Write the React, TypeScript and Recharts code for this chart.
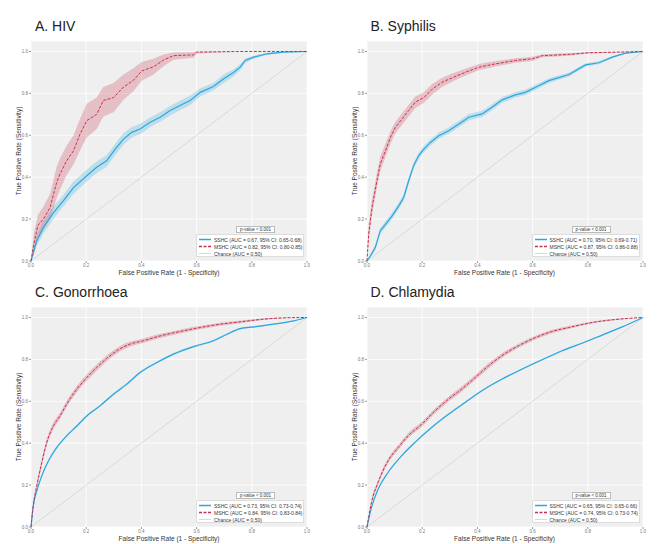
import { ComposedChart, Line, Area, XAxis, YAxis, CartesianGrid } from 'recharts';

// rows are [fpr, tpr, ci low, ci high]
const hivSSHC = [
  [0, 0, 0, 0], [0.02, 0.096, 0.07, 0.12], [0.045, 0.16, 0.13, 0.19], [0.081, 0.23, 0.2, 0.26],
  [0.117, 0.287, 0.26, 0.315], [0.154, 0.35, 0.32, 0.38], [0.202, 0.407, 0.38, 0.435],
  [0.238, 0.447, 0.42, 0.475], [0.274, 0.478, 0.45, 0.505], [0.305, 0.534, 0.505, 0.56],
  [0.335, 0.582, 0.555, 0.61], [0.365, 0.614, 0.59, 0.64], [0.395, 0.63, 0.605, 0.655],
  [0.432, 0.662, 0.64, 0.685], [0.468, 0.686, 0.665, 0.71], [0.504, 0.718, 0.695, 0.74],
  [0.54, 0.742, 0.72, 0.765], [0.577, 0.766, 0.745, 0.79], [0.613, 0.805, 0.785, 0.825],
  [0.661, 0.833, 0.815, 0.85], [0.698, 0.87, 0.85, 0.89], [0.734, 0.9, 0.88, 0.915],
  [0.758, 0.925, 0.91, 0.94], [0.776, 0.957, 0.945, 0.967], [0.807, 0.973, 0.965, 0.98],
  [0.855, 0.989, 0.983, 0.994], [0.915, 0.997, 0.994, 1], [1, 1, 1, 1],
];
const hivMSHC = [
  [0, 0, 0, 0], [0.01, 0.08, 0.03, 0.13], [0.025, 0.17, 0.1, 0.22], [0.045, 0.2, 0.15, 0.26],
  [0.069, 0.255, 0.2, 0.32], [0.093, 0.375, 0.3, 0.45], [0.105, 0.415, 0.34, 0.49],
  [0.129, 0.478, 0.41, 0.55], [0.154, 0.526, 0.46, 0.6], [0.178, 0.606, 0.53, 0.68],
  [0.202, 0.67, 0.59, 0.75], [0.238, 0.7, 0.63, 0.78], [0.262, 0.766, 0.69, 0.83],
  [0.299, 0.78, 0.71, 0.85], [0.335, 0.83, 0.77, 0.89], [0.371, 0.862, 0.81, 0.92],
  [0.401, 0.907, 0.86, 0.95], [0.444, 0.927, 0.89, 0.965], [0.48, 0.959, 0.93, 0.985],
  [0.516, 0.98, 0.96, 0.995], [0.589, 0.984, 0.97, 0.998], [0.6, 0.997, 0.99, 1],
  [0.758, 1, 1, 1], [1, 1, 1, 1],
];
const syphSSHC = [
  [0, 0, 0, 0], [0.012, 0.024, 0.015, 0.033], [0.03, 0.064, 0.05, 0.078], [0.048, 0.144, 0.13, 0.158],
  [0.067, 0.175, 0.16, 0.19], [0.091, 0.215, 0.2, 0.23], [0.115, 0.263, 0.248, 0.278],
  [0.133, 0.303, 0.288, 0.318], [0.151, 0.383, 0.368, 0.398], [0.169, 0.455, 0.44, 0.47],
  [0.187, 0.502, 0.487, 0.517], [0.206, 0.534, 0.519, 0.549], [0.23, 0.566, 0.551, 0.581],
  [0.26, 0.598, 0.583, 0.613], [0.296, 0.622, 0.607, 0.637], [0.333, 0.654, 0.639, 0.669],
  [0.369, 0.686, 0.671, 0.701], [0.417, 0.702, 0.687, 0.717], [0.453, 0.734, 0.72, 0.748],
  [0.49, 0.769, 0.755, 0.783], [0.538, 0.793, 0.78, 0.806], [0.574, 0.805, 0.792, 0.818],
  [0.611, 0.829, 0.817, 0.841], [0.659, 0.861, 0.85, 0.872], [0.732, 0.89, 0.88, 0.9],
  [0.792, 0.936, 0.928, 0.944], [0.84, 0.946, 0.939, 0.953], [0.889, 0.973, 0.968, 0.978],
  [0.937, 0.992, 0.989, 0.995], [1, 1, 1, 1],
];
const syphMSHC = [
  [0, 0, 0, 0], [0.006, 0.128, 0.09, 0.17], [0.018, 0.255, 0.22, 0.29], [0.036, 0.383, 0.35, 0.42],
  [0.048, 0.463, 0.43, 0.5], [0.067, 0.526, 0.495, 0.56], [0.085, 0.59, 0.56, 0.62],
  [0.103, 0.638, 0.61, 0.665], [0.127, 0.678, 0.65, 0.705], [0.151, 0.718, 0.69, 0.745],
  [0.175, 0.758, 0.73, 0.785], [0.206, 0.78, 0.755, 0.805], [0.236, 0.82, 0.795, 0.845],
  [0.272, 0.853, 0.83, 0.875], [0.308, 0.874, 0.855, 0.895], [0.357, 0.901, 0.885, 0.918],
  [0.405, 0.925, 0.91, 0.94], [0.466, 0.941, 0.928, 0.954], [0.538, 0.957, 0.946, 0.968],
  [0.599, 0.965, 0.955, 0.975], [0.635, 0.98, 0.972, 0.987], [0.732, 0.986, 0.98, 0.991],
  [0.804, 0.994, 0.99, 0.997], [0.913, 0.997, 0.995, 0.999], [1, 1, 1, 1],
];
const gonoSSHC = [
  [0, 0, 0, 0], [0.008, 0.1, 0.094, 0.106], [0.021, 0.172, 0.166, 0.178], [0.039, 0.244, 0.238, 0.25],
  [0.063, 0.315, 0.309, 0.321], [0.093, 0.379, 0.373, 0.385], [0.129, 0.435, 0.43, 0.44],
  [0.166, 0.482, 0.477, 0.487], [0.202, 0.53, 0.525, 0.535], [0.25, 0.578, 0.573, 0.583],
  [0.299, 0.634, 0.629, 0.639], [0.347, 0.682, 0.677, 0.687], [0.395, 0.737, 0.732, 0.742],
  [0.456, 0.785, 0.78, 0.79], [0.516, 0.825, 0.82, 0.83], [0.589, 0.861, 0.856, 0.866],
  [0.661, 0.889, 0.884, 0.894], [0.71, 0.92, 0.915, 0.925], [0.758, 0.947, 0.943, 0.951],
  [0.807, 0.955, 0.951, 0.959], [0.879, 0.968, 0.965, 0.971], [0.952, 0.984, 0.982, 0.986],
  [1, 1, 1, 1],
];
const gonoMSHC = [
  [0, 0, 0, 0], [0.008, 0.1, 0.085, 0.115], [0.021, 0.196, 0.18, 0.212], [0.039, 0.307, 0.29, 0.324],
  [0.057, 0.403, 0.386, 0.42], [0.081, 0.482, 0.466, 0.498], [0.105, 0.53, 0.515, 0.545],
  [0.129, 0.586, 0.571, 0.601], [0.166, 0.658, 0.643, 0.673], [0.202, 0.713, 0.698, 0.728],
  [0.238, 0.761, 0.746, 0.776], [0.274, 0.804, 0.79, 0.818], [0.311, 0.841, 0.828, 0.854],
  [0.359, 0.873, 0.861, 0.885], [0.407, 0.889, 0.878, 0.9], [0.468, 0.912, 0.902, 0.922],
  [0.54, 0.933, 0.924, 0.942], [0.613, 0.952, 0.944, 0.96], [0.686, 0.968, 0.961, 0.975],
  [0.758, 0.979, 0.973, 0.985], [0.843, 0.992, 0.988, 0.996], [0.915, 0.998, 0.996, 1],
  [1, 1, 1, 1],
];
const chlaSSHC = [
  [0, 0, 0, 0], [0.016, 0.092, 0.088, 0.096], [0.04, 0.18, 0.176, 0.184], [0.076, 0.26, 0.256, 0.264],
  [0.125, 0.339, 0.335, 0.343], [0.173, 0.403, 0.399, 0.407], [0.234, 0.475, 0.471, 0.479],
  [0.295, 0.538, 0.534, 0.542], [0.355, 0.594, 0.59, 0.598], [0.416, 0.65, 0.646, 0.654],
  [0.488, 0.705, 0.701, 0.709], [0.561, 0.753, 0.749, 0.757], [0.634, 0.798, 0.794, 0.802],
  [0.707, 0.841, 0.837, 0.845], [0.779, 0.877, 0.873, 0.881], [0.852, 0.916, 0.913, 0.919],
  [0.925, 0.955, 0.953, 0.957], [1, 1, 1, 1],
];
const chlaMSHC = [
  [0, 0, 0, 0], [0.016, 0.116, 0.104, 0.128], [0.04, 0.212, 0.2, 0.224], [0.076, 0.315, 0.303, 0.327],
  [0.113, 0.379, 0.367, 0.391], [0.149, 0.435, 0.423, 0.447], [0.198, 0.49, 0.478, 0.502],
  [0.246, 0.554, 0.542, 0.566], [0.295, 0.61, 0.598, 0.622], [0.343, 0.658, 0.646, 0.67],
  [0.392, 0.713, 0.701, 0.725], [0.44, 0.769, 0.757, 0.781], [0.488, 0.817, 0.806, 0.828],
  [0.549, 0.865, 0.855, 0.875], [0.61, 0.904, 0.895, 0.913], [0.67, 0.933, 0.925, 0.941],
  [0.731, 0.952, 0.945, 0.959], [0.816, 0.976, 0.971, 0.981], [0.913, 0.992, 0.989, 0.995],
  [1, 1, 1, 1],
];

const chance = [{ x: 0, y: 0 }, { x: 1, y: 1 }];
const ticks = [0, 0.2, 0.4, 0.6, 0.8, 1.0];

const titles = ['A. HIV', 'B. Syphilis', 'C. Gonorrhoea', 'D. Chlamydia'];
const sshcLabels = [
  'SSHC (AUC = 0.67, 95% CI: 0.65-0.68)',
  'SSHC (AUC = 0.70, 95% CI: 0.69-0.71)',
  'SSHC (AUC = 0.73, 95% CI: 0.73-0.74)',
  'SSHC (AUC = 0.65, 95% CI: 0.65-0.66)',
];
const mshcLabels = [
  'MSHC (AUC = 0.82, 95% CI: 0.80-0.85)',
  'MSHC (AUC = 0.87, 95% CI: 0.86-0.88)',
  'MSHC (AUC = 0.84, 95% CI: 0.83-0.84)',
  'MSHC (AUC = 0.74, 95% CI: 0.73-0.74)',
];
const sshcSeries = [hivSSHC, syphSSHC, gonoSSHC, chlaSSHC];
const mshcSeries = [hivMSHC, syphMSHC, gonoMSHC, chlaMSHC];
// the bigger datasets (C, D) give smooth curves, the small ones are jagged
const curveTypes = ['linear', 'linear', 'monotone', 'monotone'] as const;

const BLUE = '#2aa7df';
const RED = '#c8304d';
const FONT = '"Liberation Sans", Arial, sans-serif';

const toRows = (rows: number[][]) => rows.map(([x, y, lo, hi]) => ({ x, y, band: [lo, hi] }));

const tickStyle = { fontSize: 4.5, fill: '#777', fontFamily: FONT };

function KeyLine({ color, dash, width }: { color: string; dash?: string; width: number }) {
  return (
    <svg width={14} height={7} style={{ display: 'block', marginRight: 2, flexShrink: 0 }}>
      <line x1={1} y1={3.5} x2={13} y2={3.5} stroke={color} strokeWidth={width} strokeDasharray={dash} />
    </svg>
  );
}

function Panel({ idx, left, top }: { idx: number; left: number; top: number }) {
  const sshc = toRows(sshcSeries[idx]);
  const mshc = toRows(mshcSeries[idx]);
  const curve = curveTypes[idx];
  const row = { display: 'flex', alignItems: 'center', height: 7 } as const;
  return (
    <div style={{ position: 'absolute', left, top, width: 334, height: 290, fontFamily: FONT }}>
      <div style={{ position: 'absolute', left: 35, top: 19, fontSize: 14, lineHeight: '14px', color: '#222' }}>
        {titles[idx]}
      </div>
      <ComposedChart width={330} height={290} margin={{ top: 41, right: 23, left: 11, bottom: 19 }}>
        <CartesianGrid fill="#efefef" stroke="#ffffff" strokeWidth={0.8} />
        <XAxis
          type="number"
          dataKey="x"
          domain={[0, 1]}
          ticks={ticks}
          tickFormatter={(v: number) => v.toFixed(1)}
          height={10}
          tick={tickStyle}
          tickSize={2}
          tickMargin={1}
          tickLine={{ stroke: '#999' }}
          axisLine={false}
        />
        <YAxis
          type="number"
          domain={[0, 1.05]}
          ticks={ticks}
          tickFormatter={(v: number) => v.toFixed(1)}
          width={20}
          tick={tickStyle}
          tickSize={2}
          tickMargin={1}
          tickLine={{ stroke: '#999' }}
          axisLine={false}
          allowDataOverflow
        />
        <Line data={chance} dataKey="y" stroke="#cfcfcf" strokeWidth={0.7} dot={false} isAnimationActive={false} />
        <Area data={sshc} dataKey="band" type={curve} stroke="none" fill={BLUE} fillOpacity={0.25} isAnimationActive={false} />
        <Area data={mshc} dataKey="band" type={curve} stroke="none" fill={RED} fillOpacity={0.25} isAnimationActive={false} />
        <Line data={sshc} dataKey="y" type={curve} stroke={BLUE} strokeWidth={1.2} dot={false} isAnimationActive={false} />
        <Line
          data={mshc}
          dataKey="y"
          type={curve}
          stroke={RED}
          strokeWidth={1}
          strokeDasharray="3 1.5"
          dot={false}
          isAnimationActive={false}
        />
      </ComposedChart>
      {/* axis titles */}
      <div
        style={{
          position: 'absolute', left: 18, top: 151, transform: 'translate(-50%, -50%) rotate(-90deg)',
          whiteSpace: 'nowrap', fontSize: 6.5, color: '#333',
        }}
      >
        True Positive Rate (Sensitivity)
      </div>
      <div
        style={{
          position: 'absolute', left: 169, top: 272, transform: 'translate(-50%, -50%)',
          whiteSpace: 'nowrap', fontSize: 6.5, color: '#333',
        }}
      >
        False Positive Rate (1 - Specificity)
      </div>
      {/* p-value and legend */}
      <div
        style={{
          position: 'absolute', left: 236, top: 225.5, width: 39, height: 7, boxSizing: 'border-box',
          background: '#fff', border: '0.5px solid #bbb', fontSize: 4.5, lineHeight: '6px', textAlign: 'center', color: '#333',
        }}
      >
        p-value &lt; 0.001
      </div>
      <div
        style={{
          position: 'absolute', left: 196, top: 234, width: 108, height: 23, boxSizing: 'border-box',
          background: '#fff', border: '0.5px solid #ddd', padding: '1px 0 0 1px', fontSize: 5, color: '#333',
          whiteSpace: 'nowrap',
        }}
      >
        <div style={row}><KeyLine color={BLUE} width={1.5} />{sshcLabels[idx]}</div>
        <div style={row}><KeyLine color={RED} width={1.3} dash="3 1.5" />{mshcLabels[idx]}</div>
        <div style={row}><KeyLine color="#cfcfcf" width={0.8} />Chance (AUC = 0.50)</div>
      </div>
    </div>
  );
}

export default function App() {
  return (
    <div style={{ position: 'absolute', left: 0, top: 0, width: 669, height: 544, background: '#fff', overflow: 'hidden' }}>
      <Panel idx={0} left={0} top={0} />
      <Panel idx={1} left={335.5} top={0} />
      <Panel idx={2} left={0} top={266} />
      <Panel idx={3} left={335.5} top={266} />
    </div>
  );
}
